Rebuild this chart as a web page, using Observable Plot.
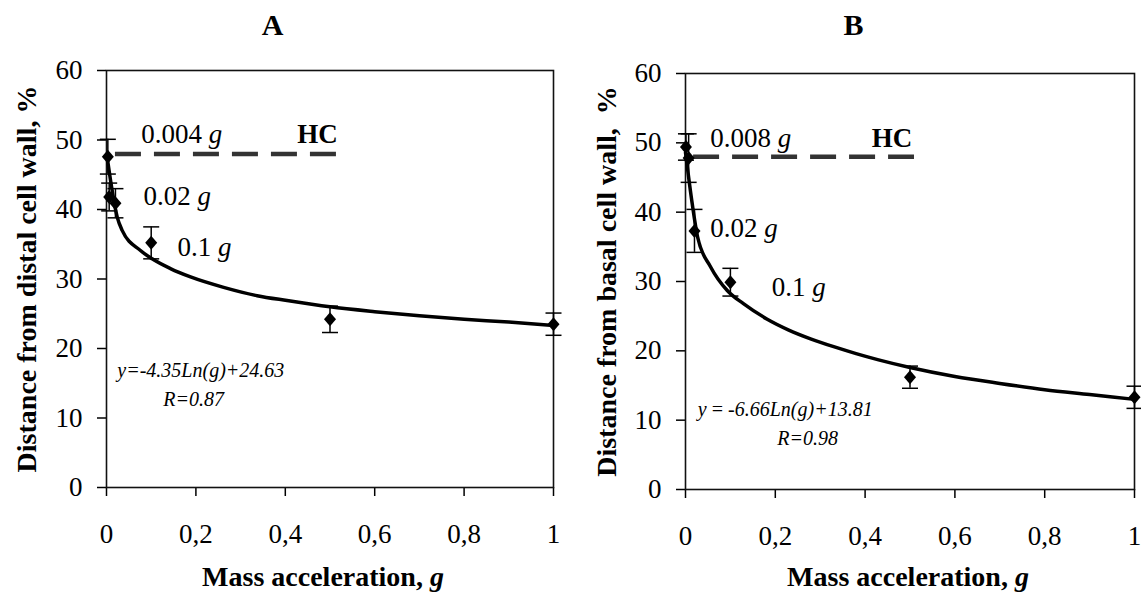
<!DOCTYPE html>
<html><head><meta charset="utf-8">
<script src="https://cdn.jsdelivr.net/npm/d3@7"></script>
<script src="https://cdn.jsdelivr.net/npm/@observablehq/plot@0.6"></script>
<style>
body{margin:0;background:#fff;}
#wrap{position:relative;width:1141px;height:598px;overflow:hidden;background:#fff;}
#wrap svg{position:absolute;top:0;overflow:visible;}
</style></head><body><div id="wrap"></div>
<script>
// ---- Panel A data ----
const massA = [0.003, 0.006, 0.02, 0.1, 0.5, 1];
const distA = [47.6, 41.8, 40.9, 35.2, 24.2, 23.5];
const errA  = [2.5, 2.0, 2.1, 2.3, 1.9, 1.6];
const fitMassA = [0.0015, 0.009, 0.024, 0.035, 0.076, 0.102, 0.143, 0.188, 0.262, 0.337, 0.404, 0.5, 0.6, 0.7, 0.8, 0.9, 1];
const fitDistA = [47.5, 44.2, 38.9, 37.0, 34.1, 32.9, 31.5, 30.3, 28.8, 27.6, 26.9, 26.0, 25.3, 24.7, 24.2, 23.8, 23.3];
// ---- Panel B data ----
const massB = [0.001, 0.007, 0.02, 0.1, 0.5, 1];
const distB = [49.4, 47.8, 37.3, 29.9, 16.2, 13.3];
const errB  = [1.9, 3.5, 3.1, 2.0, 1.6, 1.6];
const fitMassB = [0.0, 0.015, 0.027, 0.056, 0.093, 0.129, 0.181, 0.23, 0.28, 0.33, 0.38, 0.43, 0.5, 0.6, 0.7, 0.8, 0.9, 1];
const fitDistB = [48.6, 41.2, 36.4, 32.1, 28.7, 26.8, 24.6, 23.0, 21.7, 20.6, 19.6, 18.7, 17.6, 16.3, 15.3, 14.4, 13.7, 13.0];
// ---- HC reference ----
const hcLevel = [48];
const hcSpanA = [0.02, 0.535];
const hcSpanB = [0.018, 0.51];
// ---- ticks / texts ----
const xTicks = [0, 0.2, 0.4, 0.6, 0.8, 1];
const yTicks = [0, 10, 20, 30, 40, 50, 60];
const titles = ["A", "B"];
const yLabels = ["Distance from distal cell wall, %", "Distance from basal cell wall,  %"];
const xLabel = "Mass acceleration, g";
const notesA = ["0.004 g", "0.02 g", "0.1 g"];
const notesB = ["0.008 g", "0.02 g", "0.1 g"];
const eqA = ["y=-4.35Ln(g)+24.63", "R=0.87"];
const eqB = ["y\u2009=\u2009-6.66Ln(g)+13.81", "R=0.98"];

const FONT = "Liberation Serif";
const FS = 27;

const diamond = {draw(ctx){ctx.moveTo(0,-7);ctx.lineTo(6,0);ctx.lineTo(0,7);ctx.lineTo(-6,0);ctx.closePath();}};
const cap = {draw(ctx){ctx.moveTo(-8,0);ctx.lineTo(8,0);}};

function panel(o){
  const pts = o.mass.map((m,i)=>({x:m, y:o.dist[i], lo:o.dist[i]-o.err[i], hi:o.dist[i]+o.err[i]}));
  const fit = o.fitX.map((m,i)=>({x:m, y:o.fitY[i]}));
  const notes = o.notes.map((t,i)=>({t, x:o.noteX[i], y:o.noteY[i]}));
  const eq = o.eq.map((t,i)=>({t, x:o.eqX[i], y:o.eqY[i]}));
  const svg = Plot.plot({
    width:o.width, height:598,
    marginLeft:o.ml, marginRight:o.mr, marginTop:o.mt, marginBottom:o.mb,
    style:"font-family:'Liberation Serif',serif;font-size:27px;color:#000;background:transparent;overflow:visible;",
    x:{domain:[0,1]},
    y:{domain:[0,60]},
    marks:[
      Plot.axisX({ticks:xTicks, tickFormat:d=>String(d).replace(".",","), tickSize:9, tickPadding:27, label:null, strokeWidth:1.5, fontSize:FS, fontFamily:FONT}),
      Plot.axisY({ticks:yTicks, tickSize:9, tickPadding:15, label:null, strokeWidth:1.5, fontSize:FS, fontFamily:FONT}),
      Plot.frame({stroke:"#111", strokeWidth:1.6}),
      Plot.ruleY(hcLevel, {y:d=>d, x1:o.hc[0], x2:o.hc[1], stroke:"#333", strokeWidth:4.5, strokeDasharray:"26,13"}),
      Plot.line(fit, {x:"x", y:"y", curve:"monotone-x", stroke:"#000", strokeWidth:3.5}),
      Plot.ruleX(pts, {x:"x", y1:"lo", y2:"hi", stroke:"#000", strokeWidth:1.5}),
      Plot.dot(pts, {x:"x", y:"lo", symbol:cap, stroke:"#000", strokeWidth:1.5, r:1}),
      Plot.dot(pts, {x:"x", y:"hi", symbol:cap, stroke:"#000", strokeWidth:1.5, r:1}),
      Plot.dot(pts, {x:"x", y:"y", symbol:diamond, fill:"#000", stroke:null, r:1}),
      Plot.text(notes, {x:"x", y:"y", text:"t", textAnchor:"start", lineAnchor:"middle", fontSize:FS, fontFamily:FONT, fill:"#000"}),
      Plot.text(["HC"], {x:o.hcTextX, y:o.noteY[0], text:d=>d, textAnchor:"start", lineAnchor:"middle", fontSize:FS, fontFamily:FONT, fontWeight:"bold", fill:"#000"}),
      Plot.text(eq, {x:"x", y:"y", text:"t", textAnchor:"middle", lineAnchor:"middle", fontSize:20, fontFamily:FONT, fontStyle:"italic", fill:"#000"}),
      Plot.text([o.title], {frameAnchor:"top-left", dx:o.titleDx, dy:o.titleDy, text:d=>d, textAnchor:"middle", lineAnchor:"middle", fontSize:30, fontFamily:FONT, fontWeight:"bold", fill:"#000"}),
      Plot.text([o.ylab], {frameAnchor:"left", dx:o.ylabDx, rotate:-90, text:d=>d, textAnchor:"middle", lineAnchor:"middle", fontSize:28, fontFamily:FONT, fontWeight:"bold", fill:"#000"}),
      Plot.text([xLabel], {frameAnchor:"bottom", dx:o.xlabDx, dy:o.xlabDy, text:d=>d, textAnchor:"middle", lineAnchor:"middle", fontSize:28, fontFamily:FONT, fontWeight:"bold", fill:"#000"})
    ]
  });
  svg.style.left = o.left + "px";
  // italic "g" unit in labels
  svg.querySelectorAll("text").forEach(t=>{
    const s = t.textContent;
    if (/ g$/.test(s) && t.children.length===0){
      t.textContent = s.slice(0,-1);
      const ts = document.createElementNS("http://www.w3.org/2000/svg","tspan");
      ts.setAttribute("font-style","italic");
      ts.textContent = "g";
      t.appendChild(ts);
    }
  });
  return svg;
}

const wrap = document.getElementById("wrap");
wrap.appendChild(panel({
  left:0, width:580, ml:106, mr:27, mt:70, mb:111,
  mass:massA, dist:distA, err:errA, fitX:fitMassA, fitY:fitDistA,
  hc:hcSpanA, hcTextX:0.427,
  notes:notesA, noteX:[0.078, 0.083, 0.159], noteY:[50.8, 41.9, 34.5],
  eq:eqA, eqX:[0.211, 0.195], eqY:[16.8, 12.7],
  title:titles[0], titleDx:166, titleDy:-45, ylab:yLabels[0], ylabDx:-79, xlabDx:-7, xlabDy:90
}));
wrap.appendChild(panel({
  left:580, width:561, ml:105, mr:7, mt:73, mb:109,
  mass:massB, dist:distB, err:errB, fitX:fitMassB, fitY:fitDistB,
  hc:hcSpanB, hcTextX:0.415,
  notes:notesB, noteX:[0.055, 0.055, 0.192], noteY:[50.6, 37.7, 29.2],
  eq:eqB, eqX:[0.222, 0.272], eqY:[11.5, 7.4],
  title:titles[1], titleDx:168, titleDy:-48, ylab:yLabels[1], ylabDx:-78, xlabDx:-2, xlabDy:88
}));
</script></body></html>
